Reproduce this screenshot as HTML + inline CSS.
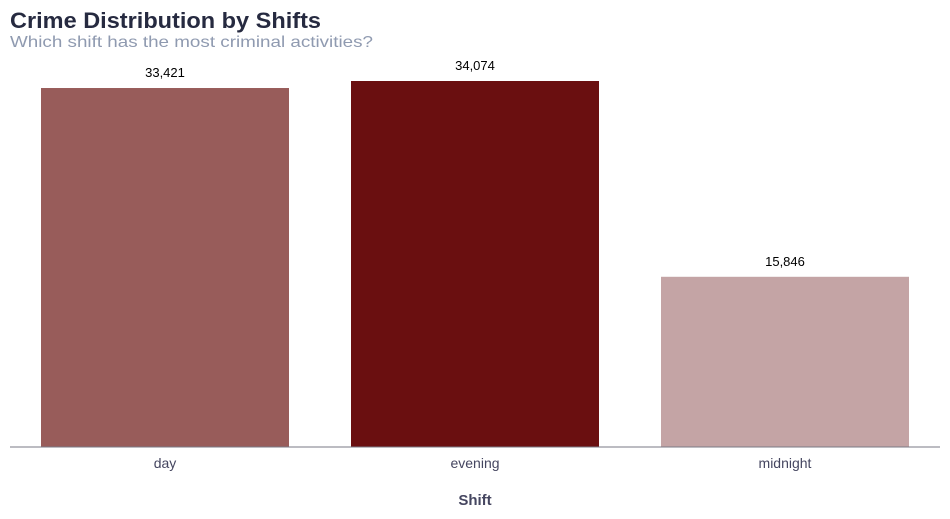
<!DOCTYPE html>
<html><head><meta charset="utf-8"><style>
body{margin:0;background:#fff;width:950px;height:519px;overflow:hidden}
svg{display:block;font-family:"Liberation Sans",sans-serif}
</style></head><body>
<svg id="chart" width="950" height="519">
<text x="10" y="28" font-size="22" font-weight="bold" fill="#262a40" textLength="311" lengthAdjust="spacingAndGlyphs">Crime Distribution by Shifts</text>
<text x="10" y="47" font-size="16" fill="#8f9ab0" textLength="363" lengthAdjust="spacingAndGlyphs">Which shift has the most criminal activities?</text>
<g id="bars"></g>
<line x1="10" y1="447" x2="940" y2="447" stroke="#7a7a85" stroke-width="1"/>
<text x="475" y="505" font-size="15" font-weight="bold" fill="#454660" text-anchor="middle">Shift</text>
</svg>
<script>
const categories=["day","evening","midnight"];
const values=[33421,34074,15846];
const colors=["#985c5a","#6a0f10","#c4a4a5"];
const baseY=447, pxPerUnit=366/34074;
const y=v=>baseY-v*pxPerUnit;
const x0=41, step=310, bw=248;
const g=document.getElementById('bars');
const ns="http://www.w3.org/2000/svg";
categories.forEach((c,i)=>{
  const x=x0+i*step;
  const r=document.createElementNS(ns,'rect');
  r.setAttribute('x',x);r.setAttribute('y',y(values[i]));
  r.setAttribute('width',bw);r.setAttribute('height',baseY-y(values[i]));
  r.setAttribute('fill',colors[i]);
  
  
  g.appendChild(r);
  const t=document.createElementNS(ns,'text');
  t.setAttribute('x',x+bw/2);t.setAttribute('y',y(values[i])-11);
  t.setAttribute('text-anchor','middle');t.setAttribute('font-size','13');t.setAttribute('fill','#000');
  t.textContent=values[i].toLocaleString('en-US');
  
  
  g.appendChild(t);
  const l=document.createElementNS(ns,'text');
  l.setAttribute('x',x+bw/2);l.setAttribute('y',468);
  l.setAttribute('text-anchor','middle');l.setAttribute('font-size','14');l.setAttribute('fill','#454660');
  l.textContent=c;
  
  
  g.appendChild(l);
});
</script>
</body></html>
